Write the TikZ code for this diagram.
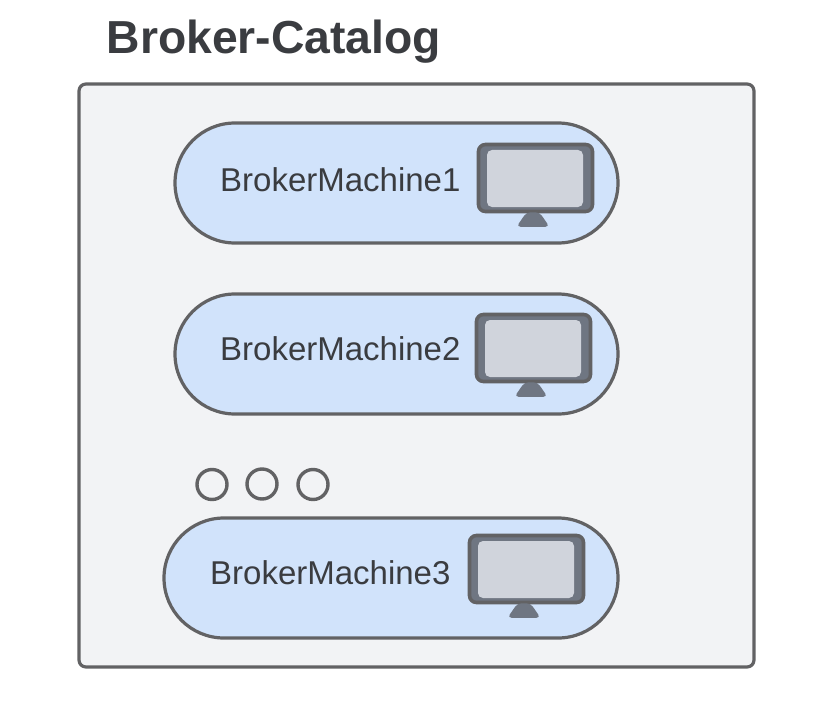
\documentclass[tikz,border=0pt]{standalone}
\usepackage{fontspec}
\setmainfont{Liberation Sans}
\usetikzlibrary{shapes.misc, positioning, calc}

\definecolor{framefill}{RGB}{242, 243, 245}
\definecolor{pillfill}{RGB}{209, 227, 251}
\definecolor{edgegray}{RGB}{98, 98, 100}
\definecolor{bodygray}{RGB}{111, 118, 130}
\definecolor{screengray}{RGB}{208, 212, 220}
\definecolor{textgray}{RGB}{58, 60, 64}

\tikzset{
  catalogframe/.style={draw=edgegray, fill=framefill, line width=3.2pt, rounded corners=7pt,
    minimum width=675pt, minimum height=583pt, inner sep=0pt},
  machinepill/.style={draw=edgegray, fill=pillfill, rounded rectangle, line width=3.2pt,
    minimum height=120pt, inner sep=0pt},
  machinelabel/.style={anchor=base west, inner sep=0pt, text=textgray, font=\fontsize{33pt}{36pt}\selectfont},
  monitorbody/.style={draw=edgegray, fill=bodygray, line width=3.6pt, rounded corners=7pt,
    minimum width=114pt, minimum height=67pt, inner sep=0pt},
  monitorscreen/.style={fill=screengray, draw=none, rounded corners=5pt,
    minimum width=96pt, minimum height=57pt, inner sep=0pt},
  monitorstand/.style={fill=bodygray, draw=none, rounded corners=4pt},
  dotmark/.style={circle, draw=edgegray, line width=3.4pt, minimum size=30pt, inner sep=0pt}
}

% stand under a monitor
\newcommand{\monitorfoot}[1]{
  \fill[monitorstand] ($(#1.south)+(-9,-1)$) -- ($(#1.south)+(-19,13.5)$) -- ($(#1.south)+(14,13.5)$) -- ($(#1.south)+(4,-1)$) -- cycle;
}

\begin{document}
\begin{tikzpicture}[x=1pt, y=-1pt]
  \useasboundingbox (0, 0) rectangle (814, 706);

  % Title
  \node[anchor=base west, inner sep=0pt, text=textgray, font=\fontsize{46.3pt}{50pt}\selectfont\bfseries] (title) at (106.5, 54) {Broker-Catalog};

  % Outer frame
  \node[catalogframe] (catalog) at (416.5, 375.5) {};

  % Machine pills
  \node[machinepill, minimum width=443pt] (pill1) at (396.5, 183) {};
  \node[machinepill, minimum width=443pt] (pill2) at (396.5, 354) {};
  \node[machinepill, minimum width=454pt] (pill3) at (391, 578) {};

  % Labels
  \node[machinelabel] (label1) at (220, 191) {BrokerMachine1};
  \node[machinelabel] (label2) at (220, 360) {BrokerMachine2};
  \node[machinelabel] (label3) at (210, 584) {BrokerMachine3};

  % Monitors
  \node[monitorbody] (monitor1) at (535.5, 178) {};
  \node[monitorscreen] (screen1) at (535, 178.5) {};
  \monitorfoot{monitor1}

  \node[monitorbody] (monitor2) at (533.5, 348) {};
  \node[monitorscreen] (screen2) at (533, 348.5) {};
  \monitorfoot{monitor2}

  \node[monitorbody] (monitor3) at (526.5, 569) {};
  \node[monitorscreen] (screen3) at (526, 569.5) {};
  \monitorfoot{monitor3}

  % Three dots
  \node[dotmark] (dot1) at (212, 484.5) {};
  \node[dotmark] (dot2) at (262, 484) {};
  \node[dotmark] (dot3) at (313, 484.5) {};
\end{tikzpicture}
\end{document}
